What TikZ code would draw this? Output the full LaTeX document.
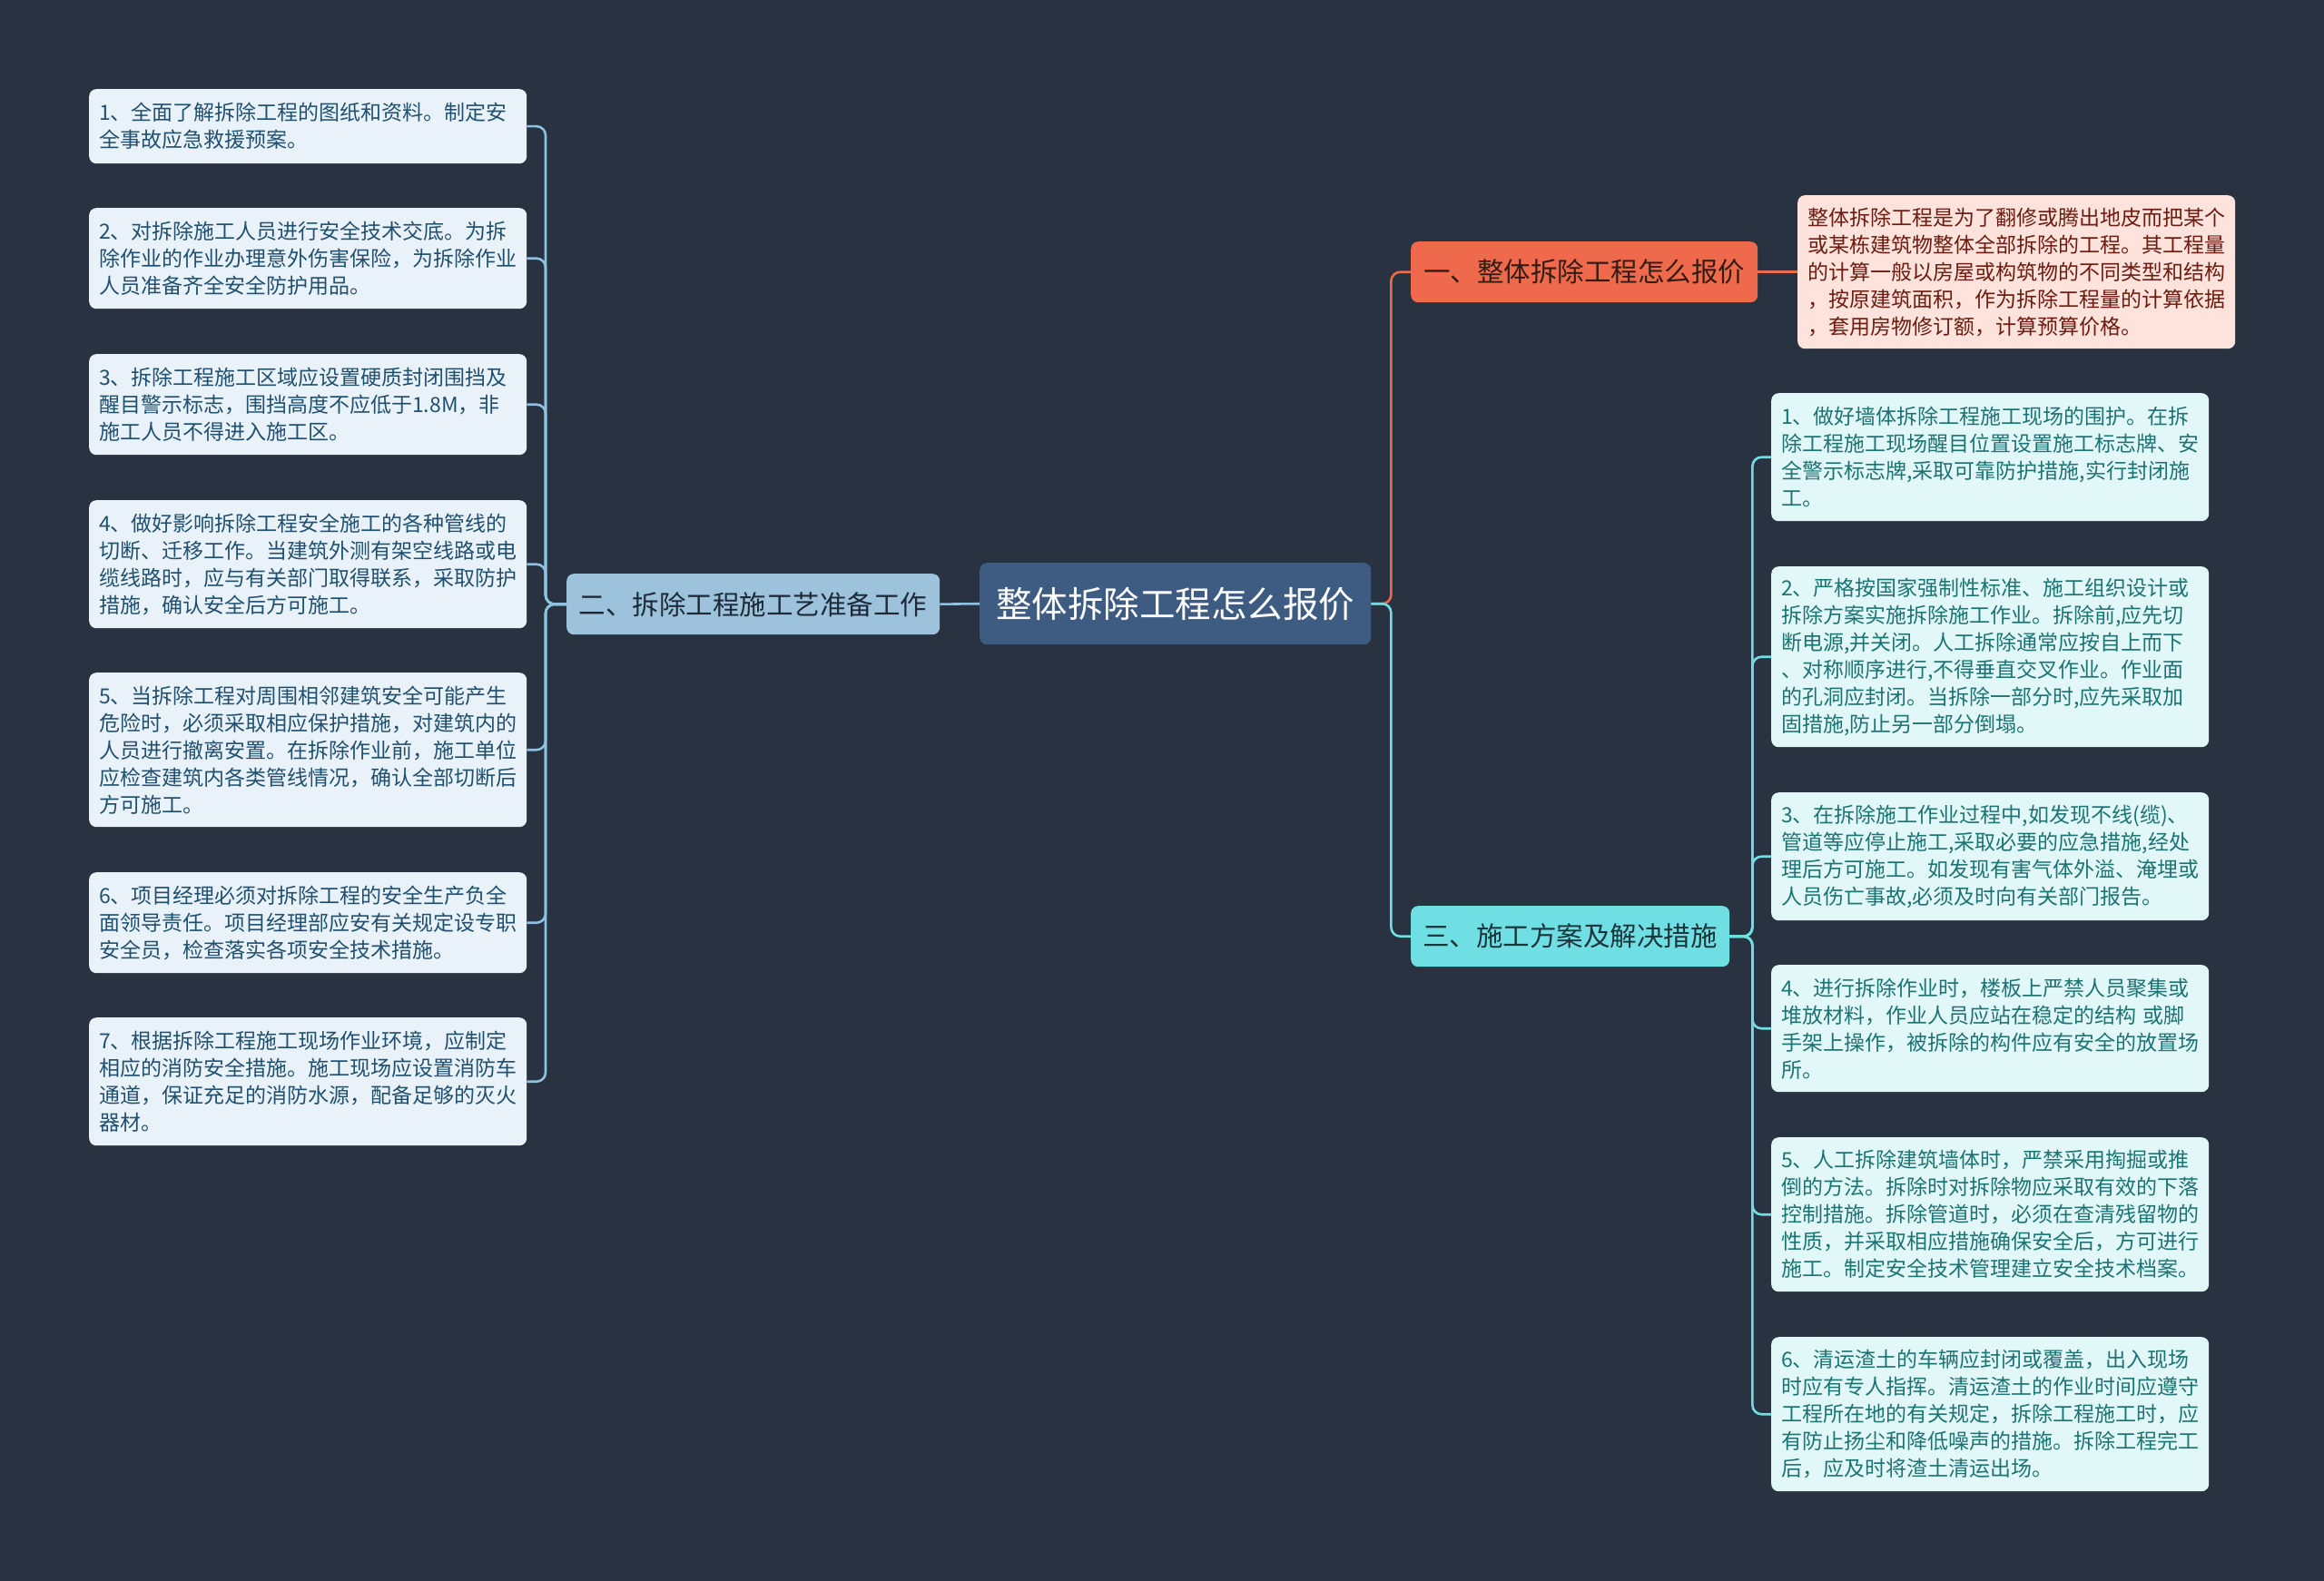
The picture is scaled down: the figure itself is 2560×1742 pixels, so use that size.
\documentclass[tikz,border=0pt]{standalone}
\usepackage{fontspec}
\setmainfont{Noto Sans CJK SC}
\definecolor{bg}{RGB}{41,50,64}
\definecolor{lfill}{RGB}{233,242,248}
\definecolor{ltext}{RGB}{32,80,112}
\definecolor{lline}{RGB}{143,193,224}
\definecolor{lbfill}{RGB}{156,194,220}
\definecolor{lbtext}{RGB}{30,42,56}
\definecolor{cfill}{RGB}{62,91,130}
\definecolor{ofill}{RGB}{239,106,76}
\definecolor{otext}{RGB}{50,28,20}
\definecolor{pfill}{RGB}{253,227,220}
\definecolor{ptext}{RGB}{110,28,16}
\definecolor{cyfill}{RGB}{111,223,227}
\definecolor{cytext}{RGB}{28,52,58}
\definecolor{rfill}{RGB}{226,248,248}
\definecolor{rtext}{RGB}{28,115,115}
\tikzset{
  leafbase/.style={anchor=north west, rounded corners=8, align=left, text width=460, inner xsep=11, inner ysep=0, font=\fontsize{23}{30}\selectfont},
  leafL/.style={leafbase, fill=lfill, text=ltext},
  leafR/.style={leafbase, fill=rfill, text=rtext},
  leafP/.style={leafbase, fill=pfill, text=ptext},
  branchbox/.style={anchor=north west, rounded corners=8, inner sep=0, font=\fontsize{29.5}{34}\selectfont},
  lconn/.style={draw=lline, line width=2.6, rounded corners=10},
  oconn/.style={draw=ofill, line width=2.6, rounded corners=10},
  cconn/.style={draw=cyfill, line width=2.6, rounded corners=10},
}
\begin{document}
\begin{tikzpicture}[x=1pt,y=-1pt]
\fill[bg] (0,0) rectangle (2560,1742);
\useasboundingbox (0,0) rectangle (2560,1742);

% center
\node[anchor=north west, rounded corners=8, fill=cfill, text=white, minimum width=431, minimum height=90, inner sep=0, font=\fontsize{39.5}{46}\selectfont] (c) at (1079,620) {整体拆除工程怎么报价};

% left branch
\node[branchbox, fill=lbfill, text=lbtext, minimum width=411, minimum height=67] (lb) at (624,632) {二、拆除工程施工艺准备工作};
% right branches
\node[branchbox, fill=ofill, text=otext, minimum width=382, minimum height=67] (ob) at (1554,266) {一、整体拆除工程怎么报价};
\node[branchbox, fill=cyfill, text=cytext, minimum width=351, minimum height=67] (cb) at (1554,998) {三、施工方案及解决措施};

% left leaves
\node[leafL, minimum height=82] (b1) at (98,98) {1、全面了解拆除工程的图纸和资料。制定安\\全事故应急救援预案。};
\node[leafL, minimum height=111] (b2) at (98,229) {2、对拆除施工人员进行安全技术交底。为拆\\除作业的作业办理意外伤害保险，为拆除作业\\人员准备齐全安全防护用品。};
\node[leafL, minimum height=111] (b3) at (98,390) {3、拆除工程施工区域应设置硬质封闭围挡及\\醒目警示标志，围挡高度不应低于1.8M，非\\施工人员不得进入施工区。};
\node[leafL, minimum height=141] (b4) at (98,551) {4、做好影响拆除工程安全施工的各种管线的\\切断、迁移工作。当建筑外测有架空线路或电\\缆线路时，应与有关部门取得联系，采取防护\\措施，确认安全后方可施工。};
\node[leafL, minimum height=170] (b5) at (98,741) {5、当拆除工程对周围相邻建筑安全可能产生\\危险时，必须采取相应保护措施，对建筑内的\\人员进行撤离安置。在拆除作业前，施工单位\\应检查建筑内各类管线情况，确认全部切断后\\方可施工。};
\node[leafL, minimum height=111] (b6) at (98,961) {6、项目经理必须对拆除工程的安全生产负全\\面领导责任。项目经理部应安有关规定设专职\\安全员，检查落实各项安全技术措施。};
\node[leafL, minimum height=141] (b7) at (98,1121) {7、根据拆除工程施工现场作业环境，应制定\\相应的消防安全措施。施工现场应设置消防车\\通道，保证充足的消防水源，配备足够的灭火\\器材。};

% pink
\node[leafP, minimum height=169] (p) at (1980,215) {整体拆除工程是为了翻修或腾出地皮而把某个\\或某栋建筑物整体全部拆除的工程。其工程量\\的计算一般以房屋或构筑物的不同类型和结构\\，按原建筑面积，作为拆除工程量的计算依据\\，套用房物修订额，计算预算价格。};

% right leaves
\node[leafR, minimum height=141] (r1) at (1951,433) {1、做好墙体拆除工程施工现场的围护。在拆\\除工程施工现场醒目位置设置施工标志牌、安\\全警示标志牌,采取可靠防护措施,实行封闭施\\工。};
\node[leafR, minimum height=199] (r2) at (1951,624) {2、严格按国家强制性标准、施工组织设计或\\拆除方案实施拆除施工作业。拆除前,应先切\\断电源,并关闭。人工拆除通常应按自上而下\\、对称顺序进行,不得垂直交叉作业。作业面\\的孔洞应封闭。当拆除一部分时,应先采取加\\固措施,防止另一部分倒塌。};
\node[leafR, minimum height=141] (r3) at (1951,873) {3、在拆除施工作业过程中,如发现不线(缆)、\\管道等应停止施工,采取必要的应急措施,经处\\理后方可施工。如发现有害气体外溢、淹埋或\\人员伤亡事故,必须及时向有关部门报告。};
\node[leafR, minimum height=140] (r4) at (1951,1063) {4、进行拆除作业时，楼板上严禁人员聚集或\\堆放材料，作业人员应站在稳定的结构 或脚\\手架上操作，被拆除的构件应有安全的放置场\\所。};
\node[leafR, minimum height=170] (r5) at (1951,1253) {5、人工拆除建筑墙体时，严禁采用掏掘或推\\倒的方法。拆除时对拆除物应采取有效的下落\\控制措施。拆除管道时，必须在查清残留物的\\性质，并采取相应措施确保安全后，方可进行\\施工。制定安全技术管理建立安全技术档案。};
\node[leafR, minimum height=170] (r6) at (1951,1473) {6、清运渣土的车辆应封闭或覆盖，出入现场\\时应有专人指挥。清运渣土的作业时间应遵守\\工程所在地的有关规定，拆除工程施工时，应\\有防止扬尘和降低噪声的措施。拆除工程完工\\后，应及时将渣土清运出场。};

% connectors left
\foreach \n in {b1,b2,b3,b4,b5,b6,b7}{
  \draw[lconn] (lb.west) -- ++(-23,0) |- (\n.east);
}
\draw[lconn] (c.west) -- (lb.east);
% right
\draw[oconn] (c.east) -- ++(22,0) |- (ob.west);
\draw[cconn] (c.east) -- ++(22,0) |- (cb.west);
\draw[oconn] (ob.east) -- (p.west);
\foreach \n in {r1,r2,r3,r4,r5,r6}{
  \draw[cconn] (cb.east) -- ++(25,0) |- (\n.west);
}
\end{tikzpicture}
\end{document}
